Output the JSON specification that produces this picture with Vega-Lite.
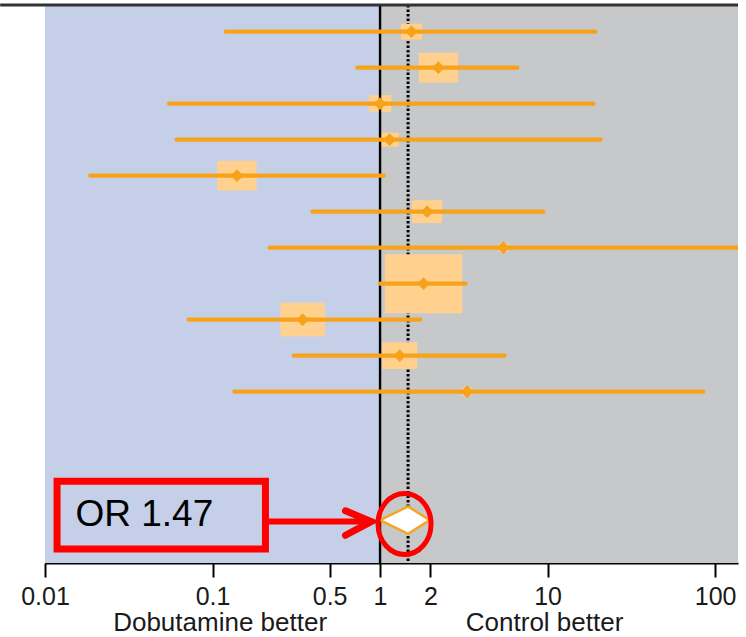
{
  "$schema": "https://vega.github.io/schema/vega-lite/v6.json",
  "width": 693,
  "height": 558,
  "autosize": {"type": "none"},
  "padding": {"left": 45, "top": 5, "right": 8, "bottom": 74},
  "background": "white",
  "config": {
    "view": {"stroke": null},
    "font": "Liberation Sans",
    "axisY": {"disable": true},
    "axisX": {"grid": false, "domainColor": "#000", "domainWidth": 2,
              "tickColor": "#000", "tickWidth": 2, "tickSize": 14,
              "labelFontSize": 25, "labelColor": "#1a1a1a", "labelPadding": 7,
              "labelFont": "Liberation Sans", "labelFlush": false, "labelOverlap": false}
  },
  "datasets": {
    "regions": [
      {"from": 0.01, "to": 1, "side": "Dobutamine better"},
      {"from": 1, "to": 137, "side": "Control better"}
    ],
    "studies": [
      {"study": 1, "or": 1.54, "lo": 0.12, "hi": 19.3, "weight": 3.0},
      {"study": 2, "or": 2.23, "lo": 0.73, "hi": 6.6, "weight": 10.5},
      {"study": 3, "or": 1.0, "lo": 0.055, "hi": 18.8, "weight": 3.4},
      {"study": 4, "or": 1.14, "lo": 0.061, "hi": 20.7, "weight": 2.3},
      {"study": 5, "or": 0.14, "lo": 0.0186, "hi": 1.05, "weight": 10.5},
      {"study": 6, "or": 1.91, "lo": 0.395, "hi": 9.46, "weight": 6.2},
      {"study": 7, "or": 5.45, "lo": 0.219, "hi": 300, "weight": 0.75},
      {"study": 8, "or": 1.82, "lo": 1.0, "hi": 3.24, "weight": 40.8},
      {"study": 9, "or": 0.345, "lo": 0.072, "hi": 1.74, "weight": 13.5},
      {"study": 10, "or": 1.31, "lo": 0.305, "hi": 5.54, "weight": 8.5},
      {"study": 11, "or": 3.31, "lo": 0.135, "hi": 85, "weight": 0.75}
    ],
    "pooled": [
      {"x": 1.0, "ylo": 14.57, "yhi": 14.57},
      {"x": 1.47, "ylo": 14.19, "yhi": 14.95},
      {"x": 1.98, "ylo": 14.57, "yhi": 14.57}
    ],
    "chevron": [
      {"o": 1, "x": 0.622, "y": 14.31},
      {"o": 2, "x": 0.886, "y": 14.61},
      {"o": 3, "x": 0.622, "y": 14.99}
    ],
    "sides": [
      {"x": 0.111, "label": "Dobutamine better"},
      {"x": 9.6, "label": "Control better"}
    ]
  },
  "layer": [
    {
      "data": {"name": "regions"},
      "mark": {"type": "rect"},
      "encoding": {
        "x": {"field": "from", "type": "quantitative", "title": null,
              "scale": {"type": "log", "domain": [0.01, 137], "nice": false},
              "axis": {"values": [0.01, 0.1, 0.5, 1, 2, 10, 100], "format": "~g", "title": null}},
        "x2": {"field": "to"},
        "color": {"field": "side", "type": "nominal",
                  "scale": {"domain": ["Dobutamine better", "Control better"], "range": ["#C5D0E8", "#C7C8CA"]},
                  "legend": null}
      }
    },
    {
      "data": {"values": [{"x": 1.47}]},
      "mark": {"type": "rule", "color": "#000", "strokeWidth": 3, "strokeDash": [2.5, 2]},
      "encoding": {
        "x": {"field": "x", "type": "quantitative", "title": null, "scale": {"type": "log", "domain": [0.01, 137], "nice": false}}
      }
    },
    {
      "data": {"name": "studies"},
      "mark": {"type": "point", "filled": true, "opacity": 1, "color": "#FFD08E",
               "shape": "M-1.31,-1L1.31,-1L1.31,1L-1.31,1Z"},
      "encoding": {
        "x": {"field": "or", "type": "quantitative", "title": null, "scale": {"type": "log", "domain": [0.01, 137], "nice": false}},
        "y": {"field": "study", "type": "quantitative", "title": null,
              "scale": {"domain": [0.26, 15.76], "reverse": true, "nice": false, "zero": false}},
        "size": {"field": "weight", "type": "quantitative",
                 "scale": {"type": "linear", "domain": [0, 40.8], "range": [0, 3481], "zero": true}, "legend": null}
      }
    },
    {
      "data": {"values": [{"x": 1}]},
      "mark": {"type": "rule", "color": "#000", "strokeWidth": 2.4},
      "encoding": {
        "x": {"field": "x", "type": "quantitative", "title": null, "scale": {"type": "log", "domain": [0.01, 137], "nice": false}}
      }
    },
    {
      "data": {"name": "studies"},
      "mark": {"type": "rule", "color": "#F7A21B", "strokeWidth": 4.2, "strokeCap": "round", "clip": true},
      "encoding": {
        "x": {"field": "lo", "type": "quantitative", "title": null, "scale": {"type": "log", "domain": [0.01, 137], "nice": false}},
        "x2": {"field": "hi"},
        "y": {"field": "study", "type": "quantitative", "title": null,
              "scale": {"domain": [0.26, 15.76], "reverse": true, "nice": false, "zero": false}}
      }
    },
    {
      "data": {"name": "studies"},
      "mark": {"type": "point", "shape": "diamond", "filled": true, "opacity": 1, "color": "#F7A21B", "size": 160},
      "encoding": {
        "x": {"field": "or", "type": "quantitative", "title": null, "scale": {"type": "log", "domain": [0.01, 137], "nice": false}},
        "y": {"field": "study", "type": "quantitative", "title": null,
              "scale": {"domain": [0.26, 15.76], "reverse": true, "nice": false, "zero": false}}
      }
    },
    {
      "data": {"name": "pooled"},
      "mark": {"type": "area", "fill": "#FFFFFF", "stroke": "#F5A623", "strokeWidth": 2.5, "fillOpacity": 1},
      "encoding": {
        "x": {"field": "x", "type": "quantitative", "title": null, "scale": {"type": "log", "domain": [0.01, 137], "nice": false}},
        "y": {"field": "ylo", "type": "quantitative", "title": null,
              "scale": {"domain": [0.26, 15.76], "reverse": true, "nice": false, "zero": false}},
        "y2": {"field": "yhi"}
      }
    },
    {
      "data": {"values": [{"a": 0.0054, "b": 137, "y": 0.26}]},
      "mark": {"type": "rule", "color": "#333", "strokeWidth": 3, "clip": false},
      "encoding": {
        "x": {"field": "a", "type": "quantitative", "title": null, "scale": {"type": "log", "domain": [0.01, 137], "nice": false}},
        "x2": {"field": "b"},
        "y": {"field": "y", "type": "quantitative", "title": null,
              "scale": {"domain": [0.26, 15.76], "reverse": true, "nice": false, "zero": false}}
      }
    },
    {
      "data": {"values": [{"x": 0.0118, "x2": 0.207, "y": 13.49, "y2": 15.37}]},
      "mark": {"type": "rect", "filled": false, "stroke": "#FF0000", "strokeWidth": 7},
      "encoding": {
        "x": {"field": "x", "type": "quantitative", "title": null, "scale": {"type": "log", "domain": [0.01, 137], "nice": false}},
        "x2": {"field": "x2"},
        "y": {"field": "y", "type": "quantitative", "title": null,
              "scale": {"domain": [0.26, 15.76], "reverse": true, "nice": false, "zero": false}},
        "y2": {"field": "y2"}
      }
    },
    {
      "data": {"values": [{"x": 0.0152, "y": 14.73, "label": "OR 1.47"}]},
      "mark": {"type": "text", "align": "left", "baseline": "alphabetic", "fontSize": 37, "color": "#000", "font": "Liberation Sans"},
      "encoding": {
        "x": {"field": "x", "type": "quantitative", "title": null, "scale": {"type": "log", "domain": [0.01, 137], "nice": false}},
        "y": {"field": "y", "type": "quantitative", "title": null,
              "scale": {"domain": [0.26, 15.76], "reverse": true, "nice": false, "zero": false}},
        "text": {"field": "label"}
      }
    },
    {
      "data": {"values": [{"x": 0.207, "x2": 0.87, "y": 14.61}]},
      "mark": {"type": "rule", "color": "#FF0000", "strokeWidth": 6},
      "encoding": {
        "x": {"field": "x", "type": "quantitative", "title": null, "scale": {"type": "log", "domain": [0.01, 137], "nice": false}},
        "x2": {"field": "x2"},
        "y": {"field": "y", "type": "quantitative", "title": null,
              "scale": {"domain": [0.26, 15.76], "reverse": true, "nice": false, "zero": false}}
      }
    },
    {
      "data": {"name": "chevron"},
      "mark": {"type": "line", "color": "#FF0000", "strokeWidth": 7, "strokeCap": "round", "strokeJoin": "miter"},
      "encoding": {
        "x": {"field": "x", "type": "quantitative", "title": null, "scale": {"type": "log", "domain": [0.01, 137], "nice": false}},
        "y": {"field": "y", "type": "quantitative", "title": null,
              "scale": {"domain": [0.26, 15.76], "reverse": true, "nice": false, "zero": false}},
        "order": {"field": "o", "type": "quantitative"}
      }
    },
    {
      "data": {"values": [{"x": 1.40, "y": 14.675}]},
      "mark": {"type": "point", "filled": false, "stroke": "#FF0000", "strokeWidth": 5, "opacity": 1, "size": 3721,
               "shape": "M -0.869 0 A 0.869 1 0 1 0 0.869 0 A 0.869 1 0 1 0 -0.869 0 Z"},
      "encoding": {
        "x": {"field": "x", "type": "quantitative", "title": null, "scale": {"type": "log", "domain": [0.01, 137], "nice": false}},
        "y": {"field": "y", "type": "quantitative", "title": null,
              "scale": {"domain": [0.26, 15.76], "reverse": true, "nice": false, "zero": false}}
      }
    },
    {
      "data": {"name": "sides"},
      "mark": {"type": "text", "align": "center", "baseline": "alphabetic", "fontSize": 26, "color": "#1a1a1a", "font": "Liberation Sans"},
      "encoding": {
        "x": {"field": "x", "type": "quantitative", "title": null, "scale": {"type": "log", "domain": [0.01, 137], "nice": false}},
        "y": {"datum": 17.66, "type": "quantitative",
              "scale": {"domain": [0.26, 15.76], "reverse": true, "nice": false, "zero": false}},
        "text": {"field": "label"}
      }
    }
  ]
}
